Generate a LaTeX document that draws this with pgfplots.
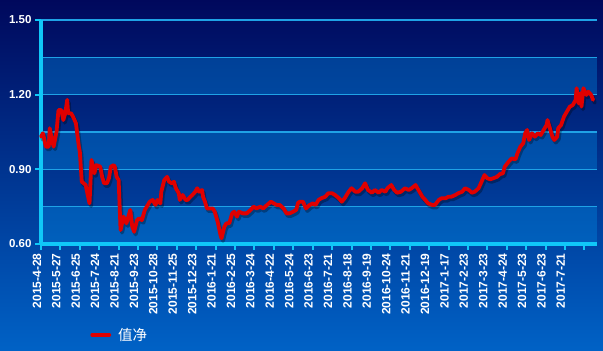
\documentclass[border=0pt]{standalone}
\usepackage{pgfplots}
\usepackage{pgfplotstable}
\pgfplotsset{compat=1.18}
\usepackage{fontspec}
\setmainfont{Liberation Sans}
\newfontfamily\cjk{Noto Sans CJK SC}
\definecolor{bgtop}{HTML}{00085C}
\definecolor{bgbot}{HTML}{0062C6}
\definecolor{axcyan}{HTML}{10C8F8}
\definecolor{gridc}{HTML}{1FA2E6}
\definecolor{band}{HTML}{0090E8}
\definecolor{linered}{HTML}{E00000}
\pgfplotstableread{
idx val
0 1.031
2 1.045
5 0.991
8 0.991
9 1.065
11 1.025
13 0.991
16 1.051
18 1.138
21 1.138
23 1.098
25 1.125
27 1.179
28 1.125
31 1.125
33 1.112
36 1.085
39 0.991
40 0.971
42 0.850
44 0.844
46 0.837
50 0.763
52 0.938
55 0.884
57 0.917
61 0.911
63 0.870
65 0.844
68 0.844
70 0.864
72 0.911
75 0.917
76 0.911
78 0.870
80 0.857
82 0.656
85 0.710
88 0.683
89 0.696
92 0.737
94 0.670
96 0.649
99 0.696
101 0.703
104 0.696
107 0.737
109 0.750
112 0.770
115 0.777
118 0.757
120 0.777
123 0.763
124 0.810
127 0.857
130 0.870
132 0.850
135 0.844
137 0.850
139 0.824
142 0.804
143 0.777
146 0.797
149 0.777
151 0.777
154 0.790
156 0.797
159 0.810
161 0.824
163 0.810
166 0.817
167 0.790
169 0.770
171 0.743
174 0.743
177 0.743
179 0.730
182 0.690
185 0.636
186 0.623
189 0.670
191 0.683
194 0.683
197 0.723
199 0.730
202 0.710
204 0.730
208 0.723
212 0.723
216 0.737
219 0.750
222 0.743
226 0.750
229 0.743
233 0.757
237 0.770
240 0.763
243 0.757
246 0.757
250 0.743
253 0.723
256 0.723
260 0.730
263 0.737
265 0.766
267 0.770
270 0.770
273 0.743
277 0.757
280 0.763
283 0.757
286 0.777
289 0.784
293 0.790
296 0.804
300 0.804
303 0.797
307 0.784
310 0.770
313 0.784
317 0.810
320 0.824
324 0.810
327 0.810
331 0.824
334 0.844
337 0.817
341 0.806
344 0.817
348 0.806
351 0.817
355 0.810
357 0.824
361 0.837
364 0.817
367 0.806
371 0.810
375 0.824
379 0.817
382 0.824
386 0.837
389 0.817
393 0.790
396 0.777
399 0.763
403 0.757
406 0.757
410 0.777
413 0.784
417 0.784
420 0.790
423 0.790
427 0.797
430 0.804
434 0.810
437 0.824
441 0.817
444 0.806
447 0.810
451 0.824
454 0.850
457 0.877
460 0.864
463 0.860
466 0.864
470 0.870
473 0.881
476 0.884
478 0.911
482 0.931
485 0.944
489 0.940
491 0.964
494 0.991
497 1.005
499 1.045
501 1.058
503 1.018
506 1.045
509 1.031
512 1.045
515 1.038
518 1.058
521 1.078
522 1.098
524 1.071
527 1.031
529 1.018
532 1.031
533 1.065
536 1.078
539 1.112
542 1.132
545 1.152
548 1.158
551 1.179
552 1.226
554 1.165
556 1.206
557 1.152
559 1.226
562 1.199
564 1.212
567 1.199
569 1.179
}\navdata
\begin{document}
\begin{tikzpicture}
\shade[top color=bgtop,bottom color=bgbot] (0,0) rectangle (603bp,351bp);
\useasboundingbox (0,0) rectangle (603bp,351bp);
\fill[band,opacity=0.35] (41bp,256.3bp) rectangle (597bp,293.7bp);
\fill[band,opacity=0.35] (41bp,181.7bp) rectangle (597bp,219bp);
\fill[band,opacity=0.35] (41bp,107bp) rectangle (597bp,144.3bp);
\begin{axis}[
  at={(41bp,107bp)}, anchor=south west, scale only axis,
  width=556bp, height=224bp,
  xmin=0, xmax=573, ymin=0.6, ymax=1.5,
  axis lines=left,
  axis line style={-, axcyan, line width=3bp},
  xtick={0,20,...,560},
  xticklabels={2015-4-28,2015-5-27,2015-6-25,2015-7-24,2015-8-21,2015-9-23,2015-10-28,2015-11-25,2015-12-23,2016-1-21,2016-2-25,2016-3-24,2016-4-22,2016-5-24,2016-6-23,2016-7-21,2016-8-18,2016-9-19,2016-10-24,2016-11-21,2016-12-19,2017-1-17,2017-2-23,2017-3-23,2017-4-24,2017-5-23,2017-6-23,2017-7-21,{}},
  ytick={0.6,0.9,1.2,1.5},
  minor ytick={0.75,1.05,1.35},
  ymajorgrids, yminorgrids,
  grid style={gridc, line width=1.5bp},
  minor grid style={gridc, line width=1.5bp},
  tick align=outside,
  major tick length=6bp, minor tick length=0pt,
  tick style={axcyan, line width=2bp},
  yticklabel style={text=white, font=\fontsize{11.5bp}{12bp}\selectfont\bfseries,
    /pgf/number format/.cd, fixed, fixed zerofill, precision=2, assume math mode=true},
  xticklabel style={text=white, font=\fontsize{12bp}{13bp}\selectfont\bfseries,
    rotate=90, anchor=base east},
  legend style={at={(0.083,-0.406)}, anchor=west, draw=none, fill=none,
    text=white, font=\cjk\fontsize{14.5bp}{16bp}\selectfont},
  clip=false,
]
\addplot[black, opacity=0.3, line width=4bp, line join=round, line cap=round, xshift=1.5bp, yshift=-2.5bp, forget plot] table[x=idx,y=val] {\navdata};
\addplot[linered, line width=3.8bp, line join=round, line cap=round] table[x=idx,y=val] {\navdata};
\addlegendentry{\hspace{5bp}值净}
\end{axis}
\end{tikzpicture}
\end{document}
